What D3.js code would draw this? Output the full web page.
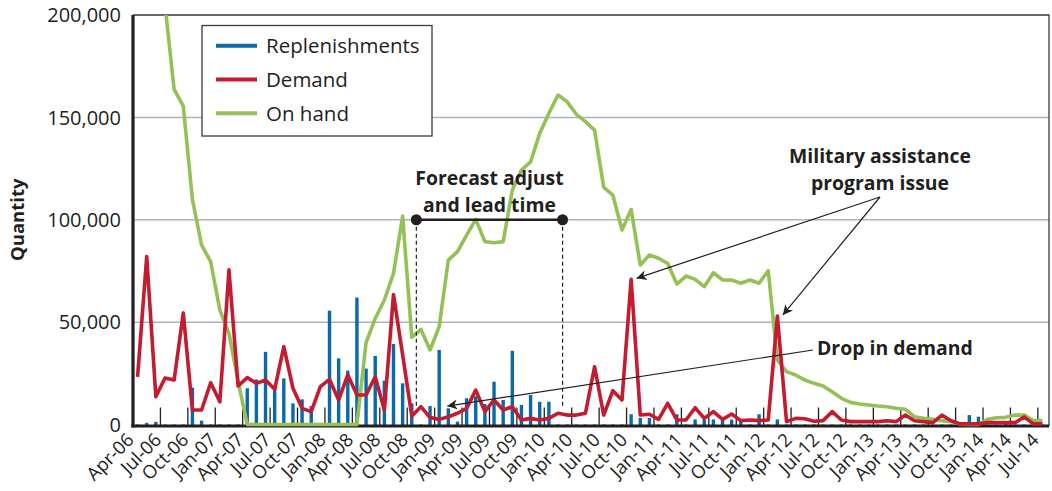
<!DOCTYPE html>
<html lang="en">
  <head>
    <meta charset="UTF-8">
    <script type="text/javascript" src="https://cdn.jsdelivr.net/npm/d3@7"></script>
    <style>
      body { margin: 0; background: #fff; }
      svg { display: block; font-family: 'Open Sans', sans-serif; }
      .ylab { font-size: 20px; fill: #231f20; }
      .xlab { font-size: 18.5px; fill: #231f20; }
      .note { font-size: 19.4px; font-weight: bold; fill: #231f20; }
    </style>
    <title>Replenishments, demand and on hand</title>
  </head>
  <body>
    <script type="text/javascript">
      // Monthly data, Apr-06 .. Jul-14 (100 months)
      let replenishments = [
        0, 800, 1300, 0, 0, 0, 18000, 1900, 0, 0,
        0, 0, 17700, 22000, 35500, 18000, 22500, 10300, 12300, 9000,
        0, 55600, 32300, 26300, 62000, 27300, 33500, 21400, 39300, 20100,
        10300, 0, 9000, 36400, 7900, 1400, 12800, 13800, 10000, 20900,
        12000, 36000, 9500, 14400, 11100, 11100, 0, 0, 0, 0,
        0, 0, 0, 0, 5000, 3200, 3200, 0, 0, 5000,
        0, 2500, 2500, 2500, 2200, 2400, 2200, 0, 5000, 0,
        2500, 0, 0, 0, 0, 0, 0, 0, 0, 0,
        0, 0, 0, 0, 0, 0, 0, 0, 0, 0,
        0, 4600, 3800, 0, 0, 1200, 0, 0, 0, 0
      ];
      let demand = [
        23300, 82000, 13600, 22700, 21700, 54500, 7100, 7100, 20400, 11100,
        75500, 18800, 22900, 20100, 21700, 17200, 38000, 17700, 7900, 6300,
        18500, 22000, 12000, 24200, 14400, 14400, 23300, 7100, 63500, 34000,
        4100, 8700, 3400, 2500, 3800, 5500, 7900, 16800, 6300, 12000,
        7100, 8700, 2200, 3000, 2200, 3000, 5500, 4600, 4600, 5500,
        28200, 4600, 16500, 12000, 70900, 4600, 5000, 2500, 10300, 2200,
        2200, 8200, 3000, 6300, 2500, 5100, 1900, 2200, 1900, 2200,
        53000, 1400, 3000, 2800, 1600, 1900, 6300, 2200, 1400, 1400,
        1400, 1400, 1800, 1400, 4600, 1800, 1400, 900, 4600, 1800,
        300, 300, 300, 900, 900, 900, 900, 3700, 300, 300
      ];
      let onHand = [
        270000, 245000, 225000, 205000, 163700, 155500, 110000, 87700, 79500, 56000,
        44500, 21000, 0, 0, 0, 0, 0, 0, 0, 0,
        0, 0, 0, 0, 0, 40000, 51800, 60800, 73800, 101800,
        42600, 46500, 36400, 47800, 80300, 84400, 92500, 100200, 89300, 88800,
        89300, 114500, 124300, 128300, 142200, 152000, 160900, 157600, 151500, 147900,
        143800, 115800, 112000, 95000, 105000, 77900, 82800, 81200, 78700, 68600,
        72500, 70900, 67300, 74100, 70600, 70500, 69000, 70600, 69000, 75100,
        31500, 25800, 24200, 21700, 20100, 18800, 16000, 12800, 10800, 10000,
        9500, 9000, 8700, 7900, 7400, 3800, 3000, 2500, 1900, 1400,
        200, 0, 0, 2500, 3300, 3500, 4600, 4600, 1900, 1900
      ];

      let quarterLabels = [
        'Apr-06', 'Jul-06', 'Oct-06', 'Jan-07', 'Apr-07', 'Jul-07', 'Oct-07', 'Jan-08', 'Apr-08',
        'Jul-08', 'Oct-08', 'Jan-09', 'Apr-09', 'Jul-09', 'Oct-09', 'Jan-10', 'Apr-10', 'Jul-10',
        'Oct-10', 'Jan-11', 'Apr-11', 'Jul-11', 'Oct-11', 'Jan-12', 'Apr-12', 'Jul-12', 'Oct-12',
        'Jan-13', 'Apr-13', 'Jul-13', 'Oct-13', 'Jan-14', 'Apr-14', 'Jul-14'
      ];
      let yTicks = [0, 50000, 100000, 150000, 200000];

      let fmt = d3.timeFormat('%b-%y');
      let months = d3.timeMonth.range(new Date(2006, 3, 1), new Date(2014, 7, 1)).map(fmt);

      let w = 1052;
      let h = 491;
      let pLeft = 133, pRight = 1049, pTop = 15, pBottom = 424.5;
      let axisY = 426;

      let colors = { rep: '#0a69a8', dem: '#c41b30', onh: '#95c056' };

      let xScale = d3.scaleBand()
                      .domain(months)
                      .range([pLeft, 1047]);
      let xc = i => xScale(months[i]) + xScale.bandwidth() / 2;
      let yScale = d3.scaleLinear()
                      .domain([0, 200000])
                      .range([pBottom, pTop]);

      let svg = d3.select('body')
                  .append('svg')
                  .attr('width', w)
                  .attr('height', h);

      let defs = svg.append('defs');
      // clip only the top (on hand runs off the chart) and the sides
      defs.append('clipPath').attr('id', 'plot')
          .append('rect')
          .attr('x', pLeft).attr('y', pTop)
          .attr('width', pRight - pLeft).attr('height', 430 - pTop);
      defs.append('marker')
          .attr('id', 'arrow')
          .attr('viewBox', '0 0 10 10')
          .attr('refX', 10).attr('refY', 5)
          .attr('markerUnits', 'userSpaceOnUse')
          .attr('markerWidth', 13).attr('markerHeight', 10)
          .attr('orient', 'auto')
          .append('path')
          .attr('d', 'M0,0 L10,5 L0,10 L3,5 Z')
          .attr('fill', '#231f20');

      // Gridlines
      svg.append('g')
          .selectAll('line')
          .data(yTicks.slice(1, 4))
          .enter()
          .append('line')
          .attr('x1', pLeft).attr('x2', pRight)
          .attr('y1', d => yScale(d)).attr('y2', d => yScale(d))
          .attr('stroke', '#a9b4be')
          .attr('stroke-width', 1.5);

      // Frame top and right
      svg.append('path')
          .attr('d', `M${pLeft},${pTop}H${pRight}V${axisY}`)
          .attr('fill', 'none')
          .attr('stroke', '#3a3a3a')
          .attr('stroke-width', 1.3);

      // Y tick labels
      svg.append('g')
          .selectAll('text')
          .data(yTicks)
          .enter()
          .append('text')
          .attr('class', 'ylab')
          .attr('x', 121)
          .attr('y', d => yScale(d))
          .attr('dy', '0.36em')
          .attr('text-anchor', 'end')
          .text(d3.format(','));

      svg.append('text')
          .attr('class', 'note')
          .attr('transform', 'translate(24,' + ((pTop + pBottom) / 2) + ') rotate(-90)')
          .attr('text-anchor', 'middle')
          .style('font-size', '18.5px')
          .text('Quantity');

      // Replenishment bars
      svg.append('g')
          .selectAll('rect')
          .data(replenishments)
          .enter()
          .append('rect')
          .attr('x', (d, i) => xc(i) - 1.7)
          .attr('width', 3.4)
          .attr('y', d => yScale(d))
          .attr('height', d => axisY - yScale(d))
          .attr('fill', colors.rep);

      // Quarter tick marks
      svg.append('g')
          .selectAll('line')
          .data(quarterLabels)
          .enter()
          .append('line')
          .attr('x1', (d, i) => xScale(months[i * 3]))
          .attr('x2', (d, i) => xScale(months[i * 3]))
          .attr('y1', axisY)
          .attr('y2', pBottom - 17)
          .attr('stroke', '#231f20')
          .attr('stroke-width', 1.3);

      // Axes (drawn under the lines, zero values sit on the axis)
      svg.append('line')
          .attr('x1', pLeft).attr('x2', pLeft)
          .attr('y1', pTop).attr('y2', axisY + 1.5)
          .attr('stroke', '#231f20').attr('stroke-width', 3.2);
      svg.append('line')
          .attr('x1', pLeft - 1.6).attr('x2', pRight)
          .attr('y1', axisY).attr('y2', axisY)
          .attr('stroke', '#231f20').attr('stroke-width', 3.2);

      // Lines
      let line = d3.line()
                    .x((d, i) => xc(i))
                    .y(d => yScale(d));
      let lines = svg.append('g').attr('clip-path', 'url(#plot)');
      lines.append('path')
          .attr('d', line(onHand))
          .attr('fill', 'none')
          .attr('stroke', colors.onh)
          .attr('stroke-width', 3.6)
          .attr('stroke-linejoin', 'round');
      lines.append('path')
          .attr('d', line(demand))
          .attr('fill', 'none')
          .attr('stroke', colors.dem)
          .attr('stroke-width', 3.6)
          .attr('stroke-linejoin', 'round');

      // X tick labels
      svg.append('g')
          .selectAll('text')
          .data(quarterLabels)
          .enter()
          .append('text')
          .attr('class', 'xlab')
          .attr('text-anchor', 'end')
          .attr('transform', (d, i) => 'translate(' + (xScale(months[i * 3]) + 2) + ',441) rotate(-45)')
          .text(d => d);

      // Legend
      let legend = svg.append('g');
      legend.append('rect')
          .attr('x', 202).attr('y', 25.5)
          .attr('width', 230).attr('height', 110.5)
          .attr('fill', '#fff')
          .attr('stroke', '#3a3a3a')
          .attr('stroke-width', 1.3);
      let legendItems = [['Replenishments', colors.rep], ['Demand', colors.dem], ['On hand', colors.onh]];
      legendItems.forEach((d, i) => {
        let ly = 45.7 + i * 33.8;
        legend.append('line')
            .attr('x1', 216).attr('x2', 257)
            .attr('y1', ly).attr('y2', ly)
            .attr('stroke', d[1]).attr('stroke-width', 4);
        legend.append('text')
            .attr('x', 266).attr('y', ly)
            .attr('dy', '0.36em')
            .style('font-size', '20.5px')
            .attr('fill', '#231f20')
            .text(d[0]);
      });

      // Annotation: forecast adjust and lead time
      let fx1 = xScale(months[31]);
      let fx2 = xScale(months[47]);
      let fy = yScale(100000);
      let notes = svg.append('g');
      [fx1, fx2].forEach(x => {
        notes.append('line')
            .attr('x1', x).attr('x2', x)
            .attr('y1', fy).attr('y2', yScale(8000))
            .attr('stroke', '#231f20')
            .attr('stroke-width', 1.2)
            .attr('stroke-dasharray', '4,3');
      });
      notes.append('line')
          .attr('x1', fx1).attr('x2', fx2)
          .attr('y1', fy).attr('y2', fy)
          .attr('stroke', '#231f20').attr('stroke-width', 2.5);
      notes.selectAll('circle')
          .data([fx1, fx2])
          .enter()
          .append('circle')
          .attr('cx', d => d).attr('cy', fy).attr('r', 5.5)
          .attr('fill', '#231f20');
      notes.append('text').attr('class', 'note')
          .attr('x', (fx1 + fx2) / 2).attr('y', 185)
          .attr('text-anchor', 'middle')
          .text('Forecast adjust');
      notes.append('text').attr('class', 'note')
          .attr('x', (fx1 + fx2) / 2).attr('y', 212)
          .attr('text-anchor', 'middle')
          .text('and lead time');

      // Annotation: military assistance program issue
      let mx = 880, my = 197;
      notes.append('text').attr('class', 'note')
          .attr('x', mx).attr('y', 163)
          .attr('text-anchor', 'middle')
          .text('Military assistance');
      notes.append('text').attr('class', 'note')
          .attr('x', mx).attr('y', 190)
          .attr('text-anchor', 'middle')
          .text('program issue');
      [[54, demand[54]], [70, demand[70]]].forEach(p => {
        notes.append('line')
            .attr('x1', mx).attr('y1', my)
            .attr('x2', xc(p[0]) + 5.5).attr('y2', yScale(p[1]) - 1)
            .attr('stroke', '#231f20').attr('stroke-width', 1.2)
            .attr('marker-end', 'url(#arrow)');
      });

      // Annotation: drop in demand
      notes.append('text').attr('class', 'note')
          .attr('x', 817).attr('y', 355)
          .text('Drop in demand');
      notes.append('line')
          .attr('x1', 813).attr('y1', 350)
          .attr('x2', xc(34) - 1).attr('y2', yScale(9000))
          .attr('stroke', '#231f20').attr('stroke-width', 1.2)
          .attr('marker-end', 'url(#arrow)');
    </script>
  </body>
</html>
